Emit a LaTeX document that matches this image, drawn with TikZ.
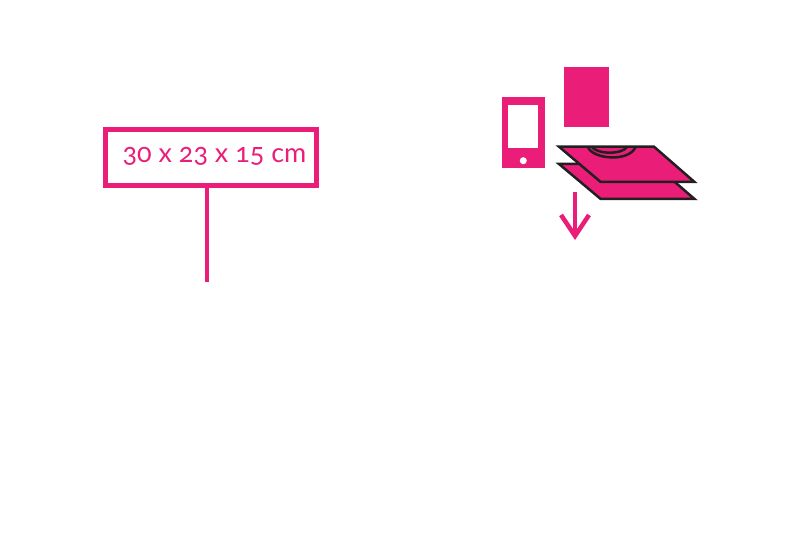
\documentclass[tikz,border=0pt]{standalone}
\usepackage{fontspec}
\usepackage{tikz}
\usetikzlibrary{calc}
\usetikzlibrary{arrows.meta}
\newfontfamily\labelfont[Numbers=OldStyle]{Lato}
\definecolor{shirtpink}{HTML}{EA1E79}
\definecolor{sheetline}{HTML}{231F20}
\tikzset{
    sizebox/.style={draw=shirtpink, line width=0.095cm, minimum width=4.22cm, minimum height=1.12cm, inner sep=0pt},
    sizetext/.style={text=shirtpink, font=\labelfont\fontsize{15.35}{18}\selectfont, inner sep=0pt},
    pinkline/.style={draw=shirtpink, line width=0.09cm},
    sheet/.style={fill=shirtpink, draw=sheetline, line width=0.05cm, line join=miter},
    neck/.style={draw=sheetline, line width=0.05cm}
}

\begin{document}
\begin{tikzpicture}[x=0.02cm, y=-0.02cm]
    \useasboundingbox (0,0) rectangle (800,533);
    % size label
    \node[sizebox] (sizebox) at (211,157.5){};
    \node[sizetext] (sizelabel) at (214.5,156.5){30 x 23 x 15 cm};
    \coordinate (stemend) at (207,282);
    \draw[pinkline] (sizebox.south -| stemend)--(stemend);
    % phone
    \fill[shirtpink] (502,97) rectangle (545,168);
    \fill[white] (508.3,105) rectangle (538.3,148.3);
    \fill[white] (523.3,160.7) circle (3.5);
    % card
    \fill[shirtpink] (564,66.7) rectangle (608.7,126.7);
    % folded sheets
    \draw[sheet] (559,164)--(654,164)--(694.5,199)--(600.7,199)--cycle;
    \draw[sheet] (559,146.7)--(654,146.7)--(694.5,182)--(600.7,182)--cycle;
    \draw[neck] (587.7,146.7) .. controls (593,160) and (630,162) .. (635.7,146.7);
    \draw[neck] (591.7,146.7) .. controls (597,154.5) and (622,155) .. (627.3,146.7);
    % arrow
    \coordinate (arrowtop) at (575,192);
    \coordinate (arrowtip) at (575,240);
    \draw[pinkline, -{Straight Barb[length=0.42cm, width=0.56cm, line width=0.09cm]}] (arrowtop)--(arrowtip);
\end{tikzpicture}
\end{document}
